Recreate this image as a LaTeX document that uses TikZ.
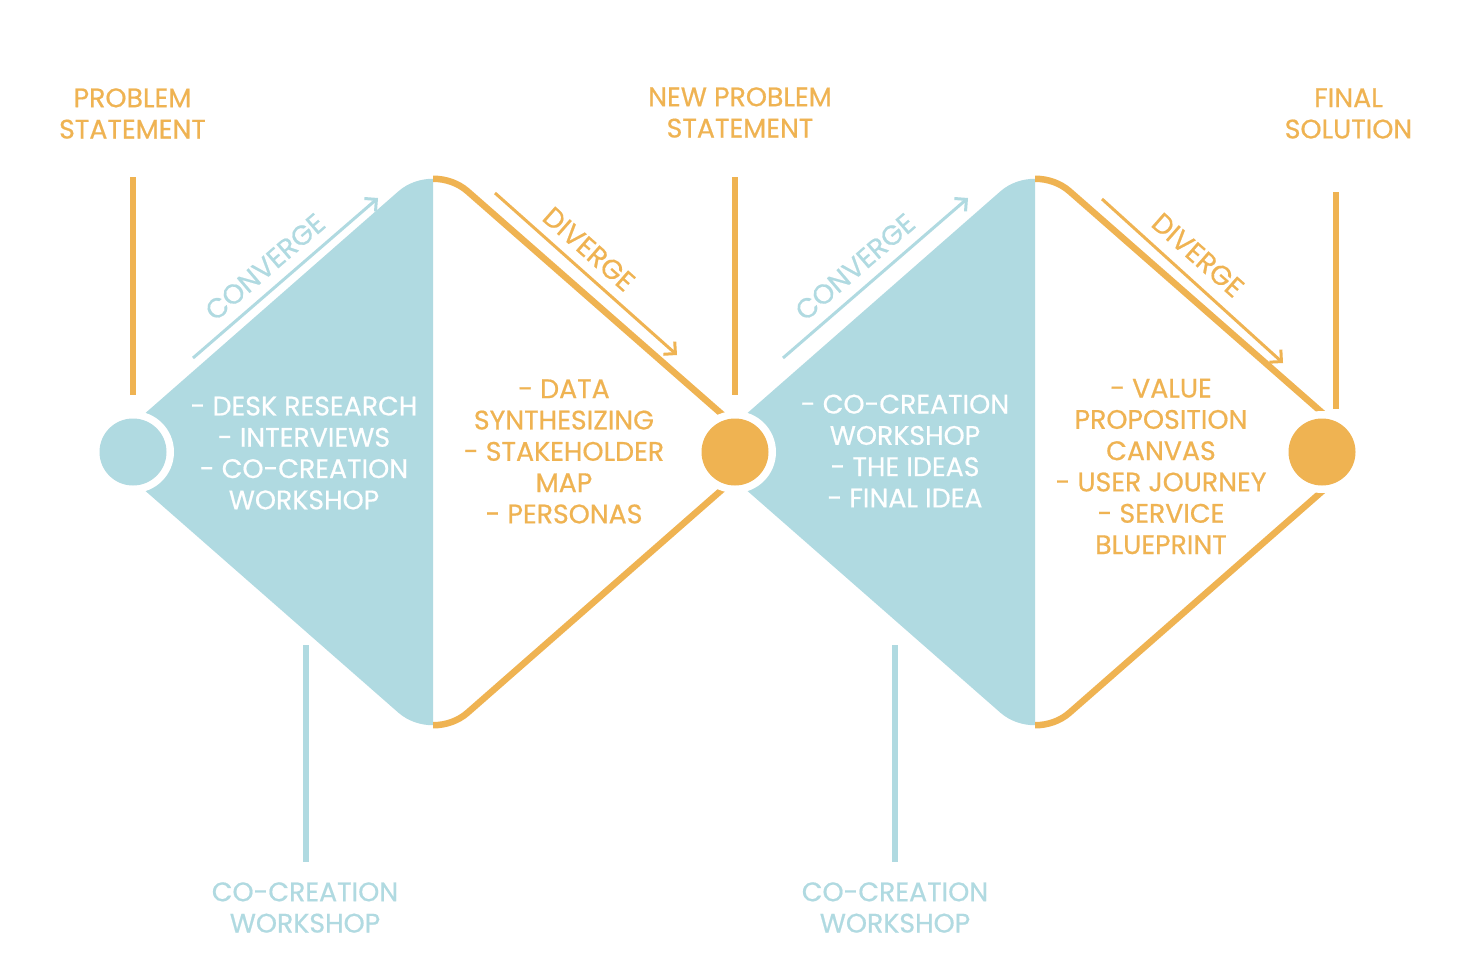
\documentclass[tikz,border=0pt]{standalone}
\usepackage{fontspec}
\setmainfont{Poppins}[FakeBold=0.6]
\usetikzlibrary{arrows.meta}
\definecolor{dblue}{RGB}{176,218,225}
\definecolor{dorange}{RGB}{239,179,82}
\begin{document}
\begin{tikzpicture}[x=1pt,y=-1pt,
  lbl/.style={font=\fontsize{26.8}{31.3}\selectfont, align=center, inner sep=0pt, anchor=center},
  olbl/.style={lbl, text=dorange},
  blbl/.style={lbl, text=dblue},
  wlbl/.style={lbl, text=white},
  vline/.style={line width=6pt},
  thickline/.style={draw=dorange, line width=6.5pt, rounded corners=46pt},
  dirarrow/.style={line width=3pt, -{Straight Barb[length=8.5pt,width=17pt,line width=3pt]}},
  dirtext/.style={font=\fontsize{27.5}{30}\selectfont, inner sep=0pt, anchor=center}
]
\useasboundingbox (0,0) rectangle (1468,974);
\fill[white] (0,0) rectangle (1468,974);

% diamond 1
\begin{scope}
  \clip (0,0) rectangle (433,974);
  \fill[dblue, rounded corners=46pt] (101,452) -- (433,161) -- (765,452) -- (433,743) -- cycle;
\end{scope}
\begin{scope}
  \clip (433,0) rectangle (1468,974);
  \draw[thickline] (101,452) -- (433,161) -- (765,452) -- (433,743) -- cycle;
\end{scope}
% diamond 2
\begin{scope}
  \clip (0,0) rectangle (1035,974);
  \fill[dblue, rounded corners=46pt] (703,452) -- (1035,161) -- (1367,452) -- (1035,743) -- cycle;
\end{scope}
\begin{scope}
  \clip (1035,0) rectangle (1468,974);
  \draw[thickline] (703,452) -- (1035,161) -- (1367,452) -- (1035,743) -- cycle;
\end{scope}

% circles
\foreach \cx in {133,735,1322} { \fill[white] (\cx,452) circle (41); }
\node[circle, fill=dblue, minimum size=67pt, inner sep=0pt] (c1) at (133,452) {};
\node[circle, fill=dorange, minimum size=67pt, inner sep=0pt] (c2) at (735,452) {};
\node[circle, fill=dorange, minimum size=67pt, inner sep=0pt] (c3) at (1322,452) {};

% top labels
\node[olbl] (p1) at (132.5,113.5) {PROBLEM\\STATEMENT};
\node[olbl] (p2) at (740,112.5) {NEW PROBLEM\\STATEMENT};
\node[olbl] (p3) at (1348.5,113.5) {FINAL\\SOLUTION};
% bottom labels
\node[blbl] (w1) at (305,907.5) {CO-CREATION\\WORKSHOP};
\node[blbl] (w2) at (895,907.5) {CO-CREATION\\WORKSHOP};

% vertical lines
\coordinate (v1a) at (133,177); \coordinate (v1b) at (133,395);
\coordinate (v2a) at (735,177); \coordinate (v2b) at (735,395);
\coordinate (v3a) at (1336,192); \coordinate (v3b) at (1336,409);
\coordinate (v4a) at (306,645); \coordinate (v4b) at (306,862);
\coordinate (v5a) at (895,645); \coordinate (v5b) at (895,862);
\draw[vline, dorange] (v1a) -- (v1b);
\draw[vline, dorange] (v2a) -- (v2b);
\draw[vline, dorange] (v3a) -- (v3b);
\draw[vline, dblue] (v4a) -- (v4b);
\draw[vline, dblue] (v5a) -- (v5b);

% block texts
\node[wlbl] (b1) at (304,453) {- DESK RESEARCH\\- INTERVIEWS\\- CO-CREATION\\WORKSHOP};
\node[olbl] (b2) at (564,451.5) {- DATA\\SYNTHESIZING\\- STAKEHOLDER\\MAP\\- PERSONAS};
\node[wlbl] (b3) at (905,451) {- CO-CREATION\\WORKSHOP\\- THE IDEAS\\- FINAL IDEA};
\node[olbl] (b4) at (1161,466.5) {- VALUE\\PROPOSITION\\CANVAS\\- USER JOURNEY\\- SERVICE\\BLUEPRINT};

% direction arrows
\coordinate (ca1) at (193,358); \coordinate (ce1) at (378,198);
\coordinate (ca2) at (783,358); \coordinate (ce2) at (968,198);
\coordinate (da1) at (495,193); \coordinate (de1) at (677,355);
\coordinate (da2) at (1102,199); \coordinate (de2) at (1283,363);
\draw[dirarrow, dblue] (ca1) -- (ce1);
\draw[dirarrow, dblue] (ca2) -- (ce2);
\draw[dirarrow, dorange] (da1) -- (de1);
\draw[dirarrow, dorange] (da2) -- (de2);
\node[dirtext, text=dblue, rotate=40.6] (t1) at (265,267) {CONVERGE};
\node[dirtext, text=dblue, rotate=40.6] (t2) at (855,267) {CONVERGE};
\node[dirtext, text=dorange, rotate=-41.3] (t3) at (589,249) {DIVERGE};
\node[dirtext, text=dorange, rotate=-41.3] (t4) at (1198,255) {DIVERGE};
\end{tikzpicture}
\end{document}
